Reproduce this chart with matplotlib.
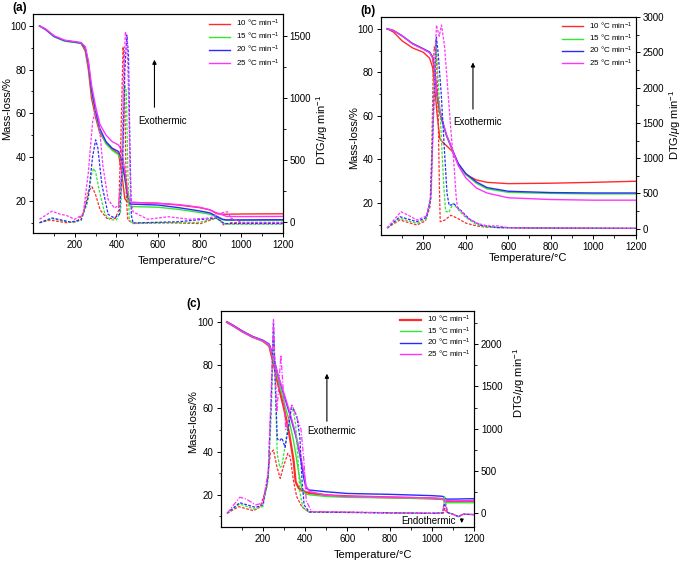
import matplotlib
matplotlib.use("Agg")
import matplotlib.pyplot as plt

plt.rcParams["font.family"] = ["Liberation Sans", "DejaVu Sans"]
plt.rcParams["mathtext.fontset"] = "custom"
plt.rcParams["mathtext.rm"] = "Liberation Sans"
plt.rcParams["mathtext.it"] = "Liberation Sans:italic"
plt.rcParams["mathtext.bf"] = "Liberation Sans:bold"

rates = ["10", "15", "20", "25"]
colors = ["#ff2a2a", "#33e633", "#2a2aff", "#ff33ff"]

# ---- panel (a): TG (%) on a shared temperature grid
a_tg_T = [30, 60, 100, 150, 200, 230, 250, 265, 280, 300, 320, 350, 380, 410, 425, 440, 455, 465, 480,
          600, 700, 800, 850, 880, 910, 930, 1000, 1200]
a_tg_10 = [100, 98.5, 95.3, 93.2, 92.6, 92.0, 88.5, 80, 67, 58, 51, 46.5, 43.5, 41.5, 33, 21, 19.3, 19.2, 19.2,
           18.8, 18.0, 16.8, 15.8, 14.2, 13.8, 13.8, 13.9, 14.0]
a_tg_15 = [100, 98.2, 95, 93, 92.4, 92.0, 89.5, 82, 70, 60, 52, 46, 43, 41, 38, 30, 20, 17.5, 17.3,
           17.0, 16.0, 14.6, 13.8, 12.6, 11.3, 11.0, 11.0, 11.0]
a_tg_20 = [100, 98.3, 95.2, 93.3, 92.6, 92.2, 90, 83, 71, 61, 53, 47, 44, 42.5, 39, 31, 22, 18.5, 18.4,
           18.0, 16.8, 15.3, 14.4, 13.0, 11.5, 11.2, 11.2, 11.3]
a_tg_25 = [100, 98.5, 95.5, 93.5, 92.8, 92.4, 90.5, 84, 73, 63, 55, 50, 47, 45.5, 43, 34, 24, 19.2, 19.2,
           18.8, 18.2, 17.0, 15.8, 14.5, 13.5, 12.8, 12.7, 12.8]

# ---- panel (a): DTG (ug/min)
a_dtg_T_10 = [30, 80, 160, 210, 240, 265, 282, 298, 322, 354, 395, 411, 422, 432, 438, 448, 455, 483, 650, 805,
              880, 900, 915, 950, 1200]
a_dtg_10 = [-8, 13, -8, 0, 67, 242, 282, 228, 94, 27, 27, 94, 712, 1411, 1250, 175, 13, -13, -8, -15,
            30, 10, -25, -8, -8]
a_dtg_T_15 = [30, 90, 180, 230, 260, 280, 290, 300, 320, 345, 370, 400, 420, 430, 440, 448, 455, 462, 475, 650,
              800, 880, 910, 930, 1200]
a_dtg_15 = [-8, 25, -5, 10, 150, 380, 430, 400, 230, 60, 15, 15, 80, 500, 1100, 1050, 400, 20, -15, -10,
            -5, 30, -10, -20, -20]
a_dtg_T_20 = [30, 90, 180, 230, 265, 285, 300, 310, 330, 360, 390, 415, 430, 440, 450, 458, 465, 472, 480, 700,
              880, 920, 1200]
a_dtg_20 = [-8, 30, -3, 15, 200, 520, 660, 600, 300, 60, 30, 60, 500, 1200, 1505, 1350, 600, 50, -10, 0,
            30, -15, -15]
a_dtg_T_25 = [30, 90, 130, 160, 200, 240, 265, 285, 300, 315, 335, 360, 390, 410, 425, 435, 443, 452, 460, 468,
              480, 550, 650, 750, 850, 900, 935, 950, 1000, 1200]
a_dtg_25 = [20, 85, 60, 50, 20, 60, 400, 800, 915, 820, 450, 180, 110, 130, 400, 1200, 1532, 1450, 900, 200,
            80, 20, 40, 20, 30, 70, 80, 30, -5, -5]

# ---- panel (b): TG
b_tg_T = [30, 60, 100, 150, 200, 230, 245, 255, 265, 278, 290, 310, 335, 365, 400, 450, 500, 600, 800, 1000, 1200]
b_tg_10 = [100, 98.5, 94.5, 91.2, 89.2, 86.5, 82, 72, 61, 49.5, 48, 46.2, 43.8, 38, 33, 30.5, 29.4, 28.8, 29.0, 29.4, 29.9]
b_tg_15 = [100, 99.2, 96.8, 93.2, 90.8, 89.2, 86.5, 78, 68, 61, 57, 50.5, 44.5, 37.5, 33, 29.0, 26.4, 24.8, 24.3, 24.1, 24.1]
b_tg_20 = [100, 99.2, 96.8, 93.2, 90.8, 89.3, 87, 80, 70, 62, 57.5, 51, 45, 38, 33.5, 29.6, 27.0, 25.3, 24.7, 24.5, 24.5]
b_tg_25 = [100, 99.2, 96.8, 93.0, 90.6, 89.0, 86.5, 79, 70, 63, 58, 51, 45, 37, 31.5, 26.8, 24.5, 22.3, 21.5, 21.2, 21.2]

# ---- panel (b): DTG
b_dtg_T_10 = [30, 90, 170, 210, 232, 240, 247, 252, 262, 270, 276, 280, 300, 330, 360, 400, 450, 500, 700, 1200]
b_dtg_10 = [10, 124, 52, 110, 312, 1070, 2250, 2580, 2480, 1700, 600, 100, 120, 190, 150, 80, 40, 20, 10, 5]
b_dtg_T_15 = [30, 90, 170, 215, 235, 245, 258, 265, 280, 295, 305, 320, 341, 370, 400, 450, 500, 700, 1200]
b_dtg_15 = [10, 147, 76, 140, 400, 1500, 2680, 2400, 1600, 700, 250, 230, 360, 250, 160, 60, 20, 10, 5]
b_dtg_T_20 = [30, 90, 170, 215, 235, 248, 262, 270, 285, 300, 312, 322, 345, 380, 420, 470, 550, 700, 1200]
b_dtg_20 = [10, 170, 100, 160, 420, 1600, 2716, 2500, 1900, 1100, 500, 330, 350, 250, 130, 50, 15, 10, 5]
b_dtg_T_25 = [30, 95, 130, 170, 215, 238, 250, 262, 275, 286, 300, 315, 330, 345, 355, 362, 375, 400, 450, 500,
              550, 600, 700, 1200]
b_dtg_25 = [10, 241, 190, 123, 180, 500, 1800, 2890, 2730, 2890, 2600, 2000, 1400, 900, 450, 280, 260, 170, 80, 40,
            40, 15, 10, 5]

# ---- panel (c): TG
c_tg_T = [30, 60, 100, 150, 200, 230, 250, 270, 300, 325, 345, 355, 370, 385, 395, 405, 420, 500, 600, 800,
          1000, 1050, 1058, 1068, 1100, 1200]
c_tg_10 = [100, 98.3, 95.8, 93.2, 91.3, 89, 81, 72, 60, 48, 36, 26, 23, 22, 21.6, 21.2, 20.8, 19.8, 19.3, 18.8,
           18.3, 18.0, 17.8, 16.8, 16.8, 17.2]
c_tg_15 = [100, 98.3, 95.8, 93.2, 91.3, 89.3, 83, 74, 63, 54, 45, 39, 30, 22.5, 21, 20.4, 20, 19.2, 18.8, 18.6,
           18.3, 18.0, 17.8, 16.3, 16.3, 16.3]
c_tg_20 = [100, 98.4, 96, 93.4, 91.6, 89.8, 84, 76, 66, 58, 51, 47.5, 41, 33, 27, 23, 22.2, 21.4, 20.6, 20.2,
           19.6, 19.3, 18.9, 18.0, 18.0, 18.2]
c_tg_25 = [100, 98.3, 95.8, 93.3, 91.4, 89.5, 83.5, 76, 67, 59, 52, 48.5, 42, 35, 30, 24, 21.5, 19.8, 19.2, 18.9,
           18.5, 18.2, 17.9, 17.3, 17.2, 17.2]

# ---- panel (c): DTG
c_dtg_T_10 = [30, 85, 156, 187, 219, 235, 250, 266, 282, 297, 318, 329, 344, 360, 384, 415, 1000, 1055, 1062,
              1070, 1100, 1125, 1150, 1200]
c_dtg_10 = [0, 79, 31, 79, 315, 709, 748, 551, 413, 551, 709, 669, 394, 197, 79, 20, 0, 5, 60,
            10, -10, -35, -10, -15]
c_dtg_T_15 = [30, 90, 160, 200, 225, 240, 250, 258, 268, 280, 290, 305, 320, 335, 345, 355, 365, 375, 390, 420,
              1000, 1052, 1060, 1066, 1075, 1100, 1125, 1150, 1200]
c_dtg_15 = [0, 110, 50, 80, 400, 1200, 2150, 1500, 700, 540, 560, 800, 1050, 1250, 1200, 1050, 700, 250, 60, 15,
            0, 5, 200, 120, 10, -10, -40, -10, -15]
c_dtg_T_20 = [30, 90, 165, 200, 225, 240, 250, 258, 268, 280, 290, 305, 320, 335, 345, 360, 375, 385, 395, 420,
              1000, 1052, 1060, 1066, 1075, 1100, 1125, 1150, 1200]
c_dtg_20 = [0, 126, 70, 100, 450, 1400, 2260, 1600, 880, 860, 890, 780, 1000, 1250, 1230, 1150, 900, 400, 100, 15,
            0, 5, 120, 80, 10, -10, -40, -10, -15]
c_dtg_T_25 = [30, 90, 120, 165, 200, 225, 240, 250, 258, 266, 275, 285, 295, 308, 320, 338, 350, 365, 380, 395,
              405, 430, 1000, 1052, 1060, 1066, 1075, 1100, 1125, 1150, 1200]
c_dtg_25 = [0, 190, 170, 100, 120, 500, 1500, 2290, 1700, 1200, 1500, 1870, 1500, 990, 1100, 1280, 1200, 1100, 1000, 600,
            150, 20, 0, 5, 160, 100, 10, -10, -40, -10, -15]

dash = (0, (2.2, 1.2))
dashdot = (0, (4, 1.3, 1, 1.3))


def draw_panel(rect, letter, tg_T, tgs, dtg_Ts, dtgs, ylim2, yticks2, minor2, leg_rows, ann, label_pos,
               dtg_styles, tg_widths, endo=False):
    ax = fig.add_axes(rect)
    ax2 = ax.twinx()
    handles = []
    for tg, col, lw in zip(tgs, colors, tg_widths):
        h, = ax.plot(tg_T, tg, color=col, lw=lw)
        handles.append(h)
    for T, d, col, ls in zip(dtg_Ts, dtgs, colors, dtg_styles):
        ax2.plot(T, d, color=col, lw=0.9, linestyle=ls)

    ax.set_xlim(0, 1200)
    ax.set_ylim(5.2, 105.3)
    ax2.set_ylim(*ylim2)
    ax.set_xticks(range(200, 1201, 200))
    ax.set_xticks(range(100, 1200, 200), minor=True)
    ax.set_yticks(range(20, 101, 20))
    ax.set_yticks(range(10, 101, 20), minor=True)
    ax2.set_yticks(yticks2)
    ax2.set_yticks(minor2, minor=True)
    for a in (ax, ax2):
        a.tick_params(which="major", length=3, width=0.7, labelsize=7, pad=2)
        a.tick_params(which="minor", length=1.8, width=0.6)
        for s in a.spines.values():
            s.set_linewidth(0.8)

    ax.set_xlabel("Temperature/°C", fontsize=8)
    ax.set_ylabel("Mass-loss/%", fontsize=8)
    ax2.set_ylabel(r"DTG/$\mu$g min$^{-1}$", fontsize=8)
    ax.xaxis.set_label_coords(*label_pos[0])
    ax.yaxis.set_label_coords(*label_pos[1])
    ax2.yaxis.set_label_coords(*label_pos[2])

    ax2.legend(handles, [r + r" °C min$^{-1}$" for r in rates], loc="upper right",
               bbox_to_anchor=(1.0, 1.0), frameon=False, fontsize=5.8, handlelength=2.6,
               handletextpad=0.8, labelspacing=leg_rows, borderpad=0.3, borderaxespad=0.1)

    tx, y0, y1, txt_x, txt_y = ann
    ax.annotate("", xy=(tx, y1), xytext=(tx, y0),
                arrowprops=dict(arrowstyle="-|>", color="black", lw=0.8, mutation_scale=6))
    ax.text(txt_x, txt_y, "Exothermic", fontsize=7, va="center", ha="left")
    if endo:
        ax.text(855, 8.0, "Endothermic", fontsize=7, va="center", ha="left")
        ax.annotate("", xy=(1142, 5.6), xytext=(1142, 10.2),
                    arrowprops=dict(arrowstyle="-|>", color="black", lw=0.8, mutation_scale=5))
    fig.text(rect[0] - 0.03 if letter != "(c)" else rect[0] - 0.05, rect[1] + rect[3] + 0.012, letter,
             fontsize=8.5, fontweight="bold", va="center")
    return ax, ax2


fig = plt.figure(figsize=(6.85, 5.62), dpi=100)

draw_panel([0.0486, 0.5854, 0.3641, 0.3891], "(a)", a_tg_T, [a_tg_10, a_tg_15, a_tg_20, a_tg_25],
           [a_dtg_T_10, a_dtg_T_15, a_dtg_T_20, a_dtg_T_25], [a_dtg_10, a_dtg_15, a_dtg_20, a_dtg_25],
           (-91, 1672), [0, 500, 1000, 1500], [250, 750, 1250], 0.25,
           (583, 61.5, 85.8, 504, 56.6),
           [(0.578, -0.105), (-0.085, 0.569), (1.128, 0.471)],
           [dash] * 4, [1.0] * 4)

draw_panel([0.5558, 0.5819, 0.3723, 0.3874], "(b)", b_tg_T, [b_tg_10, b_tg_15, b_tg_20, b_tg_25],
           [b_dtg_T_10, b_dtg_T_15, b_dtg_T_20, b_dtg_T_25], [b_dtg_10, b_dtg_15, b_dtg_20, b_dtg_25],
           (-89, 3000), [0, 500, 1000, 1500, 2000, 2500, 3000], [250, 750, 1250, 1750, 2250, 2750], 0.12,
           (434, 61.8, 85.8, 340, 57),
           [(0.578, -0.082), (-0.086, 0.448), (1.122, 0.505)],
           [dash] * 4, [1.0] * 4)

draw_panel([0.3222, 0.0628, 0.3698, 0.3843], "(c)", c_tg_T, [c_tg_10, c_tg_15, c_tg_20, c_tg_25],
           [c_dtg_T_10, c_dtg_T_15, c_dtg_T_20, c_dtg_T_25], [c_dtg_10, c_dtg_15, c_dtg_20, c_dtg_25],
           (-158, 2393), [0, 500, 1000, 1500, 2000], [250, 750, 1250, 1750, 2250], 0.02,
           (503, 52.8, 77.4, 412, 49.4),
           [(0.602, -0.110), (-0.088, 0.486), (1.148, 0.665)],
           [dash, dash, dash, dashdot], [1.6, 1.0, 1.0, 1.0], endo=True)

fig.savefig("out.png", dpi=100)
